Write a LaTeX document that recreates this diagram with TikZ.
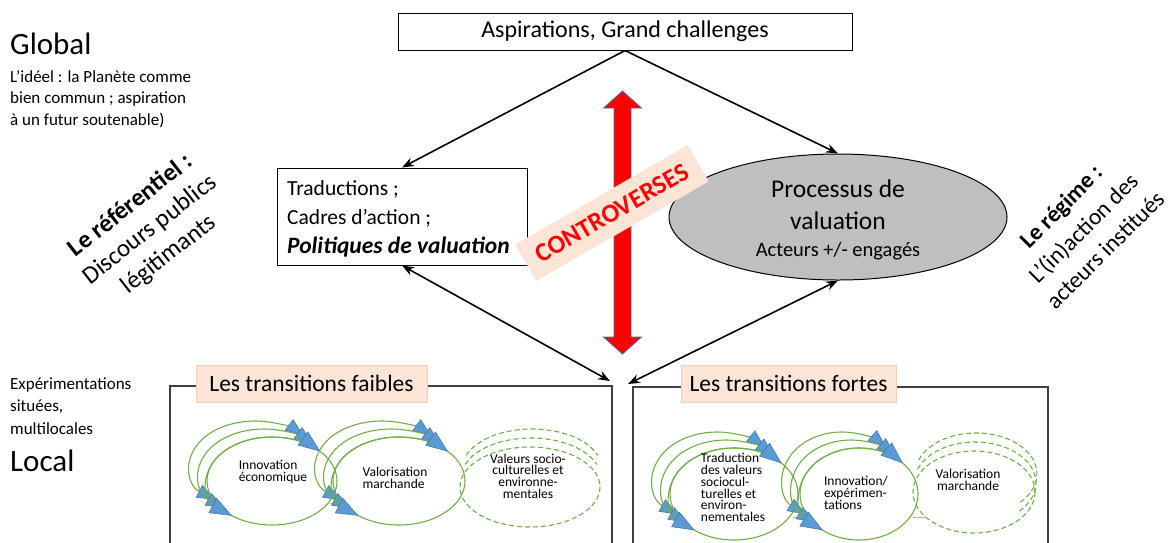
\documentclass[tikz,border=0pt]{standalone}
\usepackage{fontspec}
\setmainfont{Carlito}
\usetikzlibrary{arrows.meta,shapes.geometric}
\definecolor{peach}{HTML}{FBE5D6}
\definecolor{peachline}{HTML}{F4CDB4}
\definecolor{ellgray}{HTML}{BFBFBF}
\definecolor{gr}{HTML}{70AD47}
\definecolor{tipblue}{HTML}{5B9BD5}
\definecolor{tipline}{HTML}{41719C}
\definecolor{framec}{HTML}{404040}
\newcommand\fsz[2]{\fontsize{#1}{#2}\selectfont}
\tikzset{
  conn/.style={line width=1.6pt,-{Stealth[length=12pt,width=9pt]}},
  dconn/.style={line width=1.6pt,{Stealth[length=12pt,width=9pt]}-{Stealth[length=12pt,width=9pt]}},
  gline/.style={draw=gr,line width=1.1pt},
  dline/.style={draw=gr,line width=1.1pt,dash pattern=on 5pt off 3pt},
  looptips/.style={{Triangle[length=18pt,width=14pt,fill=tipblue,color=tipline,line width=0.5pt]}-{Triangle[length=18pt,width=14pt,fill=tipblue,color=tipline,line width=0.5pt]}},
  bigtips/.style={{Triangle[length=22pt,width=17pt,fill=tipblue,color=tipline,line width=0.5pt]}-{Triangle[length=22pt,width=17pt,fill=tipblue,color=tipline,line width=0.5pt]}},
  inner/.style={font=\fsz{13.5}{11.7}, align=left, inner sep=0pt},
  lab/.style={fill=peach,draw=peachline,line width=0.6pt,font=\fsz{23.5}{26}},
  framel/.style={draw=framec,line width=1.3pt},
  lefttxt/.style={anchor=base west,inner sep=0,font=\fsz{17}{21}},
  bigtxt/.style={anchor=base west,inner sep=0,font=\fsz{31}{36}},
}
\newcommand\greenloops[4]{%
  \foreach \dx/\dy in {-17/-16,-8/-8}{%
    \draw[gline,looptips] ([shift={(128:#3 and #4)}]{#1+\dx},{#2+\dy}) arc[start angle=128,end angle=318,x radius=#3,y radius=#4];
  }%
  \draw[gline] (#1,#2) ellipse[x radius=#3,y radius=#4];
  \draw[gline,bigtips] ([shift={(128:#3 and #4)}]#1,#2) arc[start angle=128,end angle=318,x radius=#3,y radius=#4];
}
\newcommand\dashloops[5]{%
  \foreach \dx/\dy in {2/-18,1/-9}{%
    \draw[dline] ([shift={(200:#3 and #4)}]{#1+\dx},{#2+\dy}) arc[start angle=200,end angle=#5,x radius=#3,y radius=#4];
  }%
  \draw[dline] (#1,#2) ellipse[x radius=#3,y radius=#4];
}
\begin{document}
\begin{tikzpicture}[x=1pt,y=-1pt]
\useasboundingbox (0,0) rectangle (1174,542);

% top box
\node[draw,line width=1pt,minimum width=454,minimum height=37,inner sep=0,font=\fsz{24}{28}] (top) at (625,31.5) {Aspirations, Grand challenges};

% left texts
\node[bigtxt] (global) at (10,54) {Global};
\node[lefttxt] (ideel1) at (10,82) {L’idéel : la Planète comme};
\node[lefttxt] (ideel2) at (10,103.5) {bien commun ; aspiration};
\node[lefttxt] (ideel3) at (10,125) {à un futur soutenable)};
\node[lefttxt] (exper1) at (10,389) {Expérimentations};
\node[lefttxt] (exper2) at (10,411) {situées,};
\node[lefttxt] (exper3) at (10,434) {multilocales};
\node[bigtxt] (local) at (10,471) {Local};

% rotated side texts
\node[rotate=38,align=center,font=\fsz{25}{31}] (refer) at (150,230) {\textbf{Le référentiel :}\\Discours publics\\légitimants};
\node[rotate=45,align=center,font=\fsz{23.5}{31}] (regime) at (1083,228) {\textbf{Le régime :}\\L’(in)action des\\acteurs institués};

% traductions box
\node[draw,line width=1pt,minimum width=250,minimum height=97,inner sep=0] (trad) at (402,216.5) {};
\node[anchor=base west,inner sep=0,font=\fsz{21.5}{29}] (tr1) at (287,195) {Traductions ;};
\node[anchor=base west,inner sep=0,font=\fsz{21.5}{29}] (tr2) at (287,224) {Cadres d’action ;};
\node[anchor=base west,inner sep=0,font=\bfseries\itshape\fsz{23.5}{29}] (tr3) at (287,253) {Politiques de valuation};

% processus ellipse
\node[ellipse,draw,line width=1pt,fill=ellgray,minimum width=338,minimum height=126,inner sep=0] (proc) at (838,217) {};
\node[font=\fsz{25.5}{32},align=center,inner sep=0] (proctxt) at (838,205) {Processus de\\valuation};
\node[font=\fsz{20.5}{22},inner sep=0] (acteurs) at (838,251) {Acteurs +/- engagés};

% connectors
\coordinate (meetL) at (610,381);
\coordinate (meetR) at (628,384);
\draw[conn] (top.south) -- (trad.north);
\draw[conn] (top.south) -- (proc.north);
\draw[dconn] (trad.south) -- (meetL);
\draw[dconn] (proc.south) -- (meetR);

% red double arrow
\draw[fill=red,draw=tipline,line width=0.8pt] (622.5,91) -- (641.5,108) -- (631,108) -- (631,337) -- (641.5,337) -- (622.5,354) -- (603.5,337) -- (614,337) -- (614,108) -- (603.5,108) -- cycle;

% controverses
\node[fill=peach,rotate=30,minimum width=199,minimum height=42,inner sep=0,text=red,font=\bfseries\fsz{26}{30}] (contro) at (612,213) {CONTROVERSES};

% frames
\draw[framel] (170,545) -- (170,386) -- (612,386) -- (612,545);
\draw[framel] (633,545) -- (633,387) -- (1048,387) -- (1048,545);
\node[lab,minimum width=231,minimum height=37,inner sep=0] (faible) at (311.5,383.5) {Les transitions faibles};
\node[lab,minimum width=215,minimum height=37,inner sep=0] (forte) at (788.5,383.5) {Les transitions fortes};

% left group loops
\draw[draw=gray!60,line width=0.6pt] (330,503) -- (342,503);
\greenloops{272}{481}{65}{44}
\greenloops{399}{481}{66}{44}
\dashloops{530}{487}{70}{40}{340}
\node[inner] (ie) at (273,472) {Innovation\\économique};
\node[inner] (vm) at (395,478) {Valorisation\\marchande};
\node[inner,align=center] (vs) at (528,476) {Valeurs socio-\\culturelles et\\environne-\\mentales};

% right group loops
\draw[draw=gray!60,line width=0.6pt] (913,517) -- (925,517);
\draw[draw=gray!60,line width=0.6pt] (793,517) -- (803,517);
\greenloops{734}{494}{64}{46}
\greenloops{859}{494}{59}{46}
\dashloops{974}{492}{61}{41}{405}
\node[inner] (tv) at (733,487.5) {Traduction\\des valeurs\\sociocul-\\turelles et\\environ-\\nementales};
\node[inner] (ix) at (856,493) {Innovation/\\expérimen-\\tations};
\node[inner,align=center] (vm2) at (968,480) {Valorisation\\marchande};
\end{tikzpicture}
\end{document}
